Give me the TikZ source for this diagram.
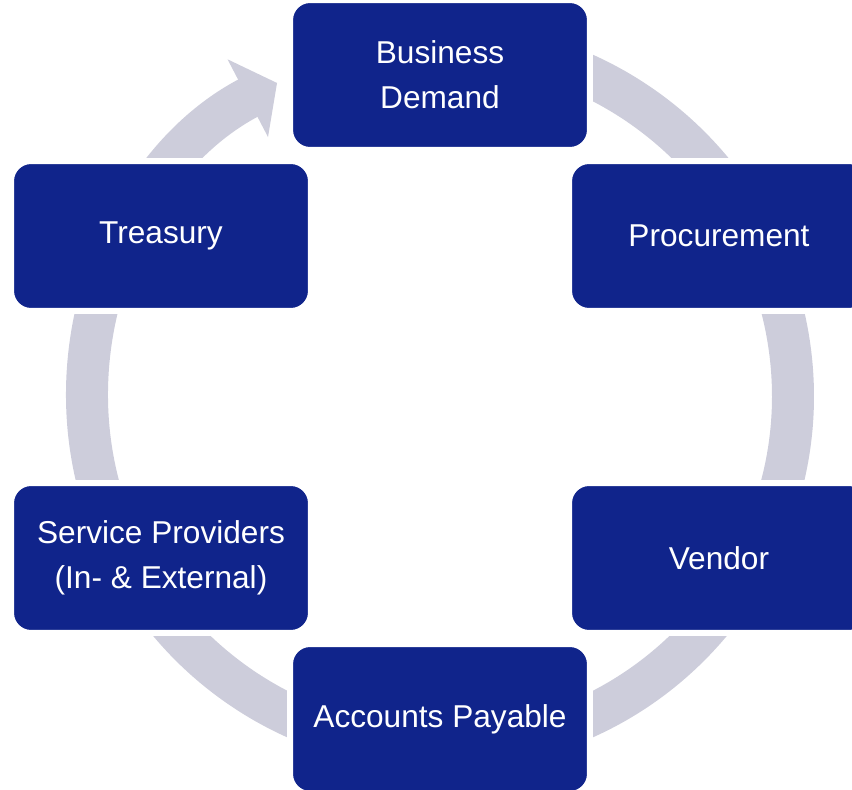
\documentclass[tikz,border=0pt]{standalone}
\usepackage{fontspec}
\setmainfont{Liberation Sans}
\usepackage{tikz}
\usepackage{xcolor}
\usetikzlibrary{arrows.meta, positioning}

\definecolor{boxblue}{RGB}{16,36,139}
\definecolor{ringgray}{RGB}{205,205,219}

\begin{document}
\begin{tikzpicture}[x=0.02cm, y=0.02cm,
  stage/.style={rectangle, rounded corners=0.4cm, fill=boxblue, draw=white,
    line width=0.12cm, minimum width=6cm, minimum height=3cm, inner sep=0pt,
    align=center, text=white, font=\fontsize{18}{25.6}\selectfont},
  ring/.style={ringgray, line width=0.84cm}]
\useasboundingbox (0,0) rectangle (852,789);
\clip (0,0) rectangle (852,789);

% Ring of the cycle, ending in the arrow at Treasury
\coordinate (ctr) at (440,393);
\draw[ring, -{Triangle[width=1.72cm, length=0.66cm]}]
  ([shift={(100:7.06cm)}]ctr) arc[start angle=100, end angle=-242.5, radius=7.06cm];

% Stages
\node[stage] (demand) at (440,714) {Business\\Demand};
\node[stage] (procure) at (719,553) {Procurement};
\node[stage] (vendor) at (719,231) {Vendor};
\node[stage] (payable) at (440,70) {Accounts Payable};
\node[stage] (service) at (161,231) {Service Providers\\(In- \& External)};
\node[stage] (treasury) at (161,553) {Treasury};
\end{tikzpicture}
\end{document}
